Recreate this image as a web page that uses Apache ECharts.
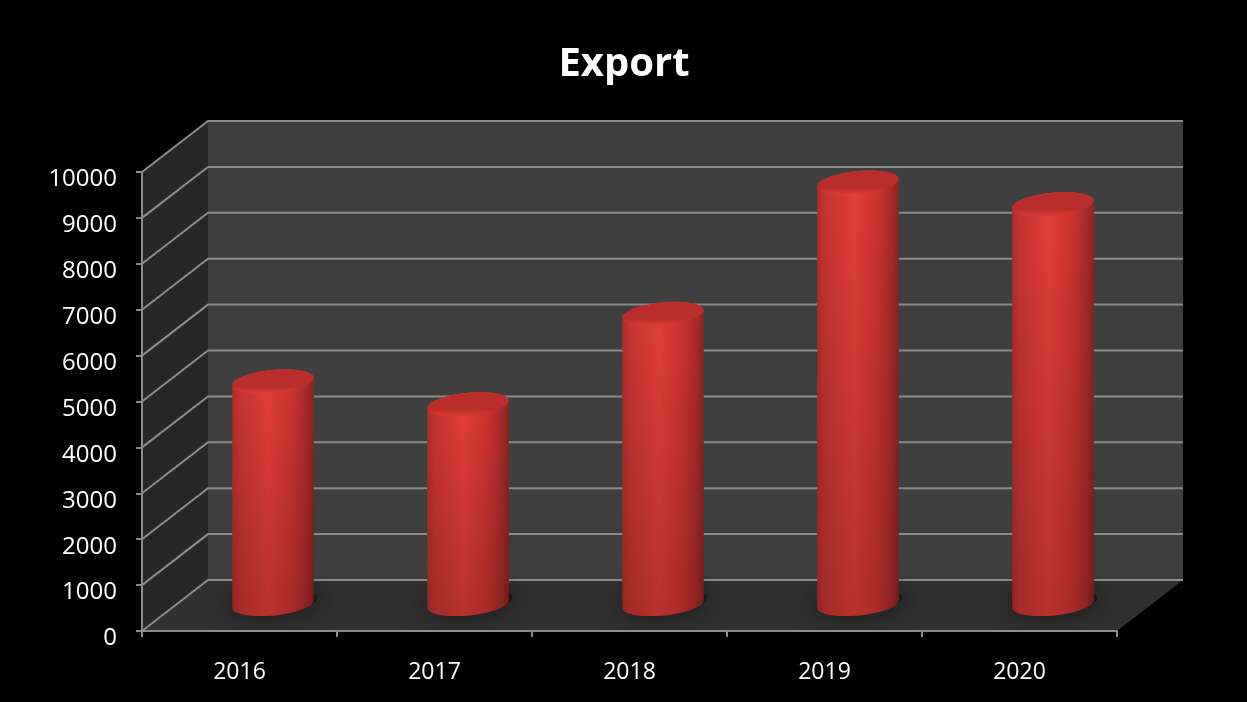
<!DOCTYPE html>
<html>
<head>
<meta charset="utf-8">
<style>html,body{margin:0;padding:0;background:#000}#chart{width:1247px;height:702px}</style>
<script src="https://cdn.jsdelivr.net/npm/echarts@6/dist/echarts.min.js"></script>
</head>
<body>
<div id="chart"></div>
<script>
const years = ['2016', '2017', '2018', '2019', '2020'];
const exportValues = [4850, 4350, 6320, 9180, 8710];
const gridLevels = [0, 1000, 2000, 3000, 4000, 5000, 6000, 7000, 8000, 9000, 10000];

// Depth of the pseudo-3D box, in pixels
const DEPTH_X = 66;
const DEPTH_Y = 51;
// Cylinder proportions relative to the category band
const BAR_RATIO = 0.21;
const CAP_RATIO = 0.28;
const TILT = -5.6 * Math.PI / 180;
// Distance of the cylinder's axis behind the front edge
const BAR_DEPTH_X = 34;
const BAR_DEPTH_Y = 27;

function ellipsePoint(cx, cy, a, b, t) {
  const ex = a * Math.cos(t), ey = b * Math.sin(t);
  return [cx + ex * Math.cos(TILT) - ey * Math.sin(TILT),
          cy + ex * Math.sin(TILT) + ey * Math.cos(TILT)];
}
function ellipseArc(cx, cy, a, b, from, to) {
  const pts = [], n = 48;
  for (let i = 0; i <= n; i++) pts.push(ellipsePoint(cx, cy, a, b, from + (to - from) * i / n));
  return pts;
}
const grad = (x, y, x2, y2, stops) => new echarts.graphic.LinearGradient(x, y, x2, y2, stops);

// Back wall, side wall and floor of the box
function renderWalls(params, api) {
  const c = params.coordSys;
  const x0 = c.x, x1 = c.x + c.width, y0 = c.y + c.height, yTop = c.y;
  const dx = DEPTH_X, dy = DEPTH_Y;
  return {
    type: 'group',
    children: [
      { type: 'polygon', shape: { points: [[x0 + dx, yTop - dy], [x1 + dx, yTop - dy], [x1 + dx, y0 - dy], [x0 + dx, y0 - dy]] }, style: { fill: '#3e3e3e' } },
      { type: 'polygon', shape: { points: [[x0, yTop], [x0 + dx, yTop - dy], [x0 + dx, y0 - dy], [x0, y0]] }, style: { fill: '#272727' } },
      { type: 'polygon', shape: { points: [[x0, y0], [x0 + dx, y0 - dy], [x1 + dx, y0 - dy], [x1, y0]] }, style: { fill: '#303030' } }
    ]
  };
}

// One horizontal level: diagonal on the side wall, then across the back wall
function renderLevel(params, api) {
  const c = params.coordSys;
  const x0 = c.x, x1 = c.x + c.width;
  const y = api.coord([0, api.value(0)])[1];
  return {
    type: 'polyline',
    shape: { points: [[x0, y], [x0 + DEPTH_X, y - DEPTH_Y], [x1 + DEPTH_X, y - DEPTH_Y]] },
    style: { fill: null, stroke: '#8b8b8b', lineWidth: 2 }
  };
}

// Soft floor shadow under a cylinder
function renderShadow(params, api) {
  const band = params.coordSys.width / years.length;
  const a = band * BAR_RATIO;
  const b = a * CAP_RATIO;
  const [cx0, yBase] = api.coord([api.value(0), 0]);
  const cx = cx0 + BAR_DEPTH_X + 1;
  const cy = yBase - BAR_DEPTH_Y - 2;
  return {
    type: 'polygon',
    shape: { points: ellipseArc(cx, cy, a * 1.05, b * 0.95, 0, 2 * Math.PI) },
    style: { fill: 'rgba(20,20,20,0.8)', shadowBlur: 26, shadowColor: 'rgba(12,12,12,1)' }
  };
}

// Cylinder standing mid-way through the depth of the box
function renderCylinder(params, api) {
  const idx = api.value(0);
  const band = params.coordSys.width / years.length;
  const a = band * BAR_RATIO;
  const b = a * CAP_RATIO;
  const [cx0, yBase] = api.coord([idx, 0]);
  const yTopFront = api.coord([idx, api.value(1)])[1];
  const cx = cx0 + BAR_DEPTH_X - 0.5;
  const cyBase = yBase - BAR_DEPTH_Y;
  const cyTop = yTopFront - BAR_DEPTH_Y;

  const bodyPts = ellipseArc(cx, cyTop, a, b, Math.PI, 2 * Math.PI)
    .concat(ellipseArc(cx, cyBase, a, b, 0, Math.PI));

  return {
    type: 'group',
    children: [
      {
        type: 'polygon', shape: { points: bodyPts },
        style: { fill: grad(0, 0, 1, 0, [
          { offset: 0, color: '#b02e2b' },
          { offset: 0.1, color: '#c93532' },
          { offset: 0.45, color: '#e23e3a' },
          { offset: 0.75, color: '#cc3330' },
          { offset: 0.92, color: '#a52a27' },
          { offset: 1, color: '#8a2320' }
        ]) }
      },
      {
        type: 'polygon', shape: { points: bodyPts },
        style: { fill: grad(0, 0, 0, 1, [
          { offset: 0, color: 'rgba(0,0,0,0)' },
          { offset: 0.55, color: 'rgba(0,0,0,0.1)' },
          { offset: 1, color: 'rgba(20,0,0,0.2)' }
        ]) }
      },
      {
        type: 'polygon', shape: { points: ellipseArc(cx, cyTop, a, b, 0, 2 * Math.PI) },
        style: { fill: grad(0, 0, 0, 1, [
          { offset: 0, color: '#bb2e2b' },
          { offset: 0.7, color: '#b92d2a' },
          { offset: 1, color: '#de3c38' }
        ]) }
      }
    ]
  };
}

const chart = echarts.init(document.getElementById('chart'), null, { renderer: 'canvas' });
const barRows = exportValues.map((v, i) => [i, v]);
chart.setOption({
  animation: false,
  backgroundColor: '#000000',
  title: {
    text: 'Export', left: 619, top: 40, textAlign: 'center',
    textStyle: { color: '#ffffff', fontFamily: '"Open Sans"', fontWeight: 'bold', fontSize: 40 }
  },
  grid: { left: 142, top: 172, width: 975, height: 459 },
  xAxis: {
    type: 'category', data: years,
    axisLine: { show: true, onZero: false, lineStyle: { color: '#8b8b8b', width: 2 } },
    axisTick: { show: true, length: 6, lineStyle: { color: '#8b8b8b', width: 2 } },
    axisLabel: { color: '#ffffff', fontFamily: '"Open Sans"', fontSize: 23, margin: 30 },
    splitLine: { show: false }, z: 10
  },
  yAxis: {
    type: 'value', min: 0, max: 10000, interval: 1000,
    axisLine: { show: true, lineStyle: { color: '#8b8b8b', width: 2 } },
    axisTick: { show: true, length: 6, lineStyle: { color: '#8b8b8b', width: 2 } },
    axisLabel: { color: '#ffffff', fontFamily: '"Open Sans"', fontSize: 24, margin: 25,
      verticalAlign: 'top', lineHeight: 15, formatter: v => String(v) },
    splitLine: { show: false }, z: 10
  },
  series: [
    { type: 'custom', z: 1, silent: true, clip: false, renderItem: renderWalls, data: [[0]], encode: { x: 0 } },
    { type: 'custom', z: 2, silent: true, clip: false, renderItem: renderLevel,
      data: gridLevels.map(v => [v]), encode: { y: 0 } },
    { type: 'custom', z: 3, silent: true, clip: false, renderItem: renderShadow,
      data: barRows, encode: { x: 0, y: 1 } },
    { type: 'custom', z: 4, silent: true, clip: false, renderItem: renderCylinder,
      data: barRows, encode: { x: 0, y: 1 } }
  ]
});
</script>
</body>
</html>
